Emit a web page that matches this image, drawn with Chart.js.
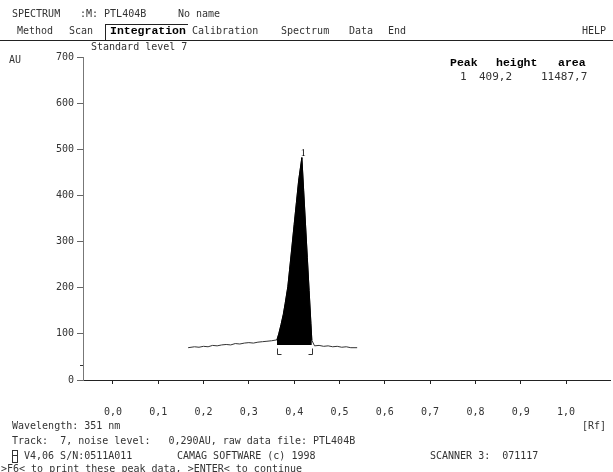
<!DOCTYPE html>
<html>
<head>
<meta charset="utf-8">
<script src="https://cdn.jsdelivr.net/npm/chart.js@4"></script>
<style>
body{margin:0;background:#fff;}
#wrap{position:relative;width:613px;height:472px;overflow:hidden;background:#fff;}
#chart{position:absolute;left:0;top:0;}
.t{position:absolute;font-family:"DejaVu Sans Mono",monospace;font-size:10px;line-height:12px;color:#333;white-space:pre;}
.b{font-family:"Liberation Mono",monospace;font-weight:bold;font-size:11.5px;color:#000;}
.r{font-size:11px;}
</style>
</head>
<body>
<div id="wrap">
<canvas id="chart" width="613" height="472"></canvas>
</div>
<script>

// trace (Rf / AU)
const traceRf = [0.166,0.180,0.190,0.200,0.210,0.220,0.230,0.240,0.250,0.260,0.270,0.280,0.290,0.300,0.310,0.320,0.330,0.340,0.350,0.362,
  0.366,0.371,0.376,0.380,0.386,0.390,0.395,0.400,0.405,0.410,0.417,
  0.421,0.425,0.429,0.433,0.437,0.439,
  0.445,0.455,0.465,0.475,0.485,0.495,0.505,0.515,0.525,0.539];
const traceAU = [70,72,71,73,72,75,74,76,77,76,79,78,80,81,80,82,83,84,85,87,
  100,120,142,165,202,240,288,337,385,433,482,
  410,338,266,194,122,86,
  74,75,73,74,72,73,71,72,70,70];

const peakStart = 0.362;
const peakEnd = 0.439;
const peakBaseline = 76;
const peakTopRf = 0.417;
const peakTopAU = 482;
const baseMarkAU = 32;

const xTicks = [0,0.1,0.2,0.3,0.4,0.5,0.6,0.7,0.8,0.9,1.0];
const yTicks = [0,100,200,300,400,500,600,700];

const peakNo = ["1"];
const peakHeight = ["409,2"];
const peakArea = ["11487,7"];

const wrap = document.getElementById("wrap");
function txt(s, x, y, cls){
  let d = document.createElement("div");
  d.className = "t" + (cls ? " " + cls : "");
  d.textContent = s;
  d.style.left = x + "px";
  d.style.top = (y - 6) + "px";
  wrap.appendChild(d);
  return d;
}
function box(x, y, w, h, css){
  let d = document.createElement("div");
  d.style.cssText = "position:absolute;left:"+x+"px;top:"+y+"px;width:"+w+"px;height:"+h+"px;"+css;
  wrap.appendChild(d);
}

// header
txt("SPECTRUM", 12, 14);
txt(":M: PTL404B", 80, 14);
txt("No name", 178, 14);
txt("Method", 17, 31);
txt("Scan", 69, 31);
txt("Integration", 110, 31, "b");
txt("Calibration", 192, 31);
txt("Spectrum", 281, 31);
txt("Data", 349, 31);
txt("End", 388, 31);
txt("HELP", 582, 31);
box(0, 40, 613, 1, "background:#222;");
box(105, 24, 83, 1, "background:#222;");
box(105, 24, 1, 16, "background:#222;");

txt("Standard level 7", 91, 47);
txt("AU", 9, 60);

// peak table
txt("Peak", 450, 63, "b");
txt("height", 496, 63, "b");
txt("area", 558, 63, "b");
txt(peakNo[0], 460, 77, "r");
txt(peakHeight[0], 479, 77, "r");
txt(peakArea[0], 541, 77, "r");

// footer
txt("Wavelength: 351 nm", 12, 426);
txt("[Rf]", 582, 426);
txt("Track:  7, noise level:   0,290AU, raw data file: PTL404B", 12, 441);
box(12, 450, 4, 11, "border:1px solid #333;");
box(13, 455, 4, 1, "background:#333;");
txt("V4,06 S/N:0511A011", 24, 456);
txt("CAMAG SOFTWARE (c) 1998", 177, 456);
txt("SCANNER 3:  071117", 430, 456);
txt(">F6< to print these peak data, >ENTER< to continue", 1, 469);

const peakPts = [];
for(let i = 0; i < traceRf.length; i++){
  if(traceRf[i] >= peakStart && traceRf[i] <= peakEnd){
    peakPts.push({x: traceRf[i], y: traceAU[i]});
  }
}

const marks = {
  id: "marks",
  afterDatasetsDraw(chart){
    let c = chart.ctx, xs = chart.scales.x, ys = chart.scales.y;
    c.save();
    c.strokeStyle = "#333";
    c.lineWidth = 1;
    let yb = Math.round(ys.getPixelForValue(peakBaseline)) + 0.5;
    let x1 = Math.round(xs.getPixelForValue(peakStart)) + 0.5;
    let x2 = Math.round(xs.getPixelForValue(peakEnd)) + 0.5;
    c.beginPath();
    c.moveTo(x1, yb + 3); c.lineTo(x1, yb + 9); c.lineTo(x1 + 4, yb + 9);
    c.moveTo(x2, yb + 3); c.lineTo(x2, yb + 9); c.lineTo(x2 - 4, yb + 9);
    // small marker on the y axis
    let ym = Math.round(ys.getPixelForValue(baseMarkAU)) + 0.5;
    c.moveTo(chart.chartArea.left - 3, ym); c.lineTo(chart.chartArea.left, ym);
    c.stroke();
    c.fillStyle = "#000";
    c.font = "10px 'Liberation Serif'";
    c.textAlign = "left";
    c.textBaseline = "bottom";
    c.fillText("1", xs.getPixelForValue(peakTopRf) - 1, ys.getPixelForValue(peakTopAU) + 1);
    c.restore();
  }
};

new Chart(document.getElementById("chart"), {
  type: "scatter",
  data: {
    datasets: [
      {
        data: peakPts,
        showLine: true,
        borderColor: "#000",
        borderWidth: 1,
        backgroundColor: "#000",
        pointRadius: 0,
        fill: {value: peakBaseline}
      },
      {
        data: traceRf.map((x, i) => ({x: x, y: traceAU[i]})),
        showLine: true,
        borderColor: "#333",
        borderWidth: 1,
        pointRadius: 0,
        fill: false
      }
    ]
  },
  options: {
    responsive: false,
    animation: false,
    layout: {padding: {left: 0, top: 57, right: 3, bottom: 0}},
    plugins: {legend: {display: false}, tooltip: {enabled: false}},
    scales: {
      x: {
        type: "linear",
        min: -0.066,
        max: 1.097,
        afterBuildTicks: s => { s.ticks = xTicks.map(v => ({value: v})); },
        afterFit: s => { s.height = 92; },
        grid: {drawOnChartArea: false, tickLength: 4, color: "#222"},
        border: {color: "#222", width: 1},
        ticks: {
          padding: 22,
          color: "#333",
          font: {family: "DejaVu Sans Mono", size: 10},
          callback: v => v.toFixed(1).replace(".", ",")
        }
      },
      y: {
        min: 0,
        max: 700,
        afterBuildTicks: s => { s.ticks = yTicks.map(v => ({value: v})); },
        afterFit: s => { s.width = 83; },
        grid: {drawOnChartArea: false, tickLength: 6, color: "#666"},
        border: {color: "#777", width: 1},
        ticks: {
          padding: 3,
          color: "#333",
          font: {family: "DejaVu Sans Mono", size: 10},
          callback: v => String(v)
        }
      }
    }
  },
  plugins: [marks]
});

</script>
</body>
</html>
